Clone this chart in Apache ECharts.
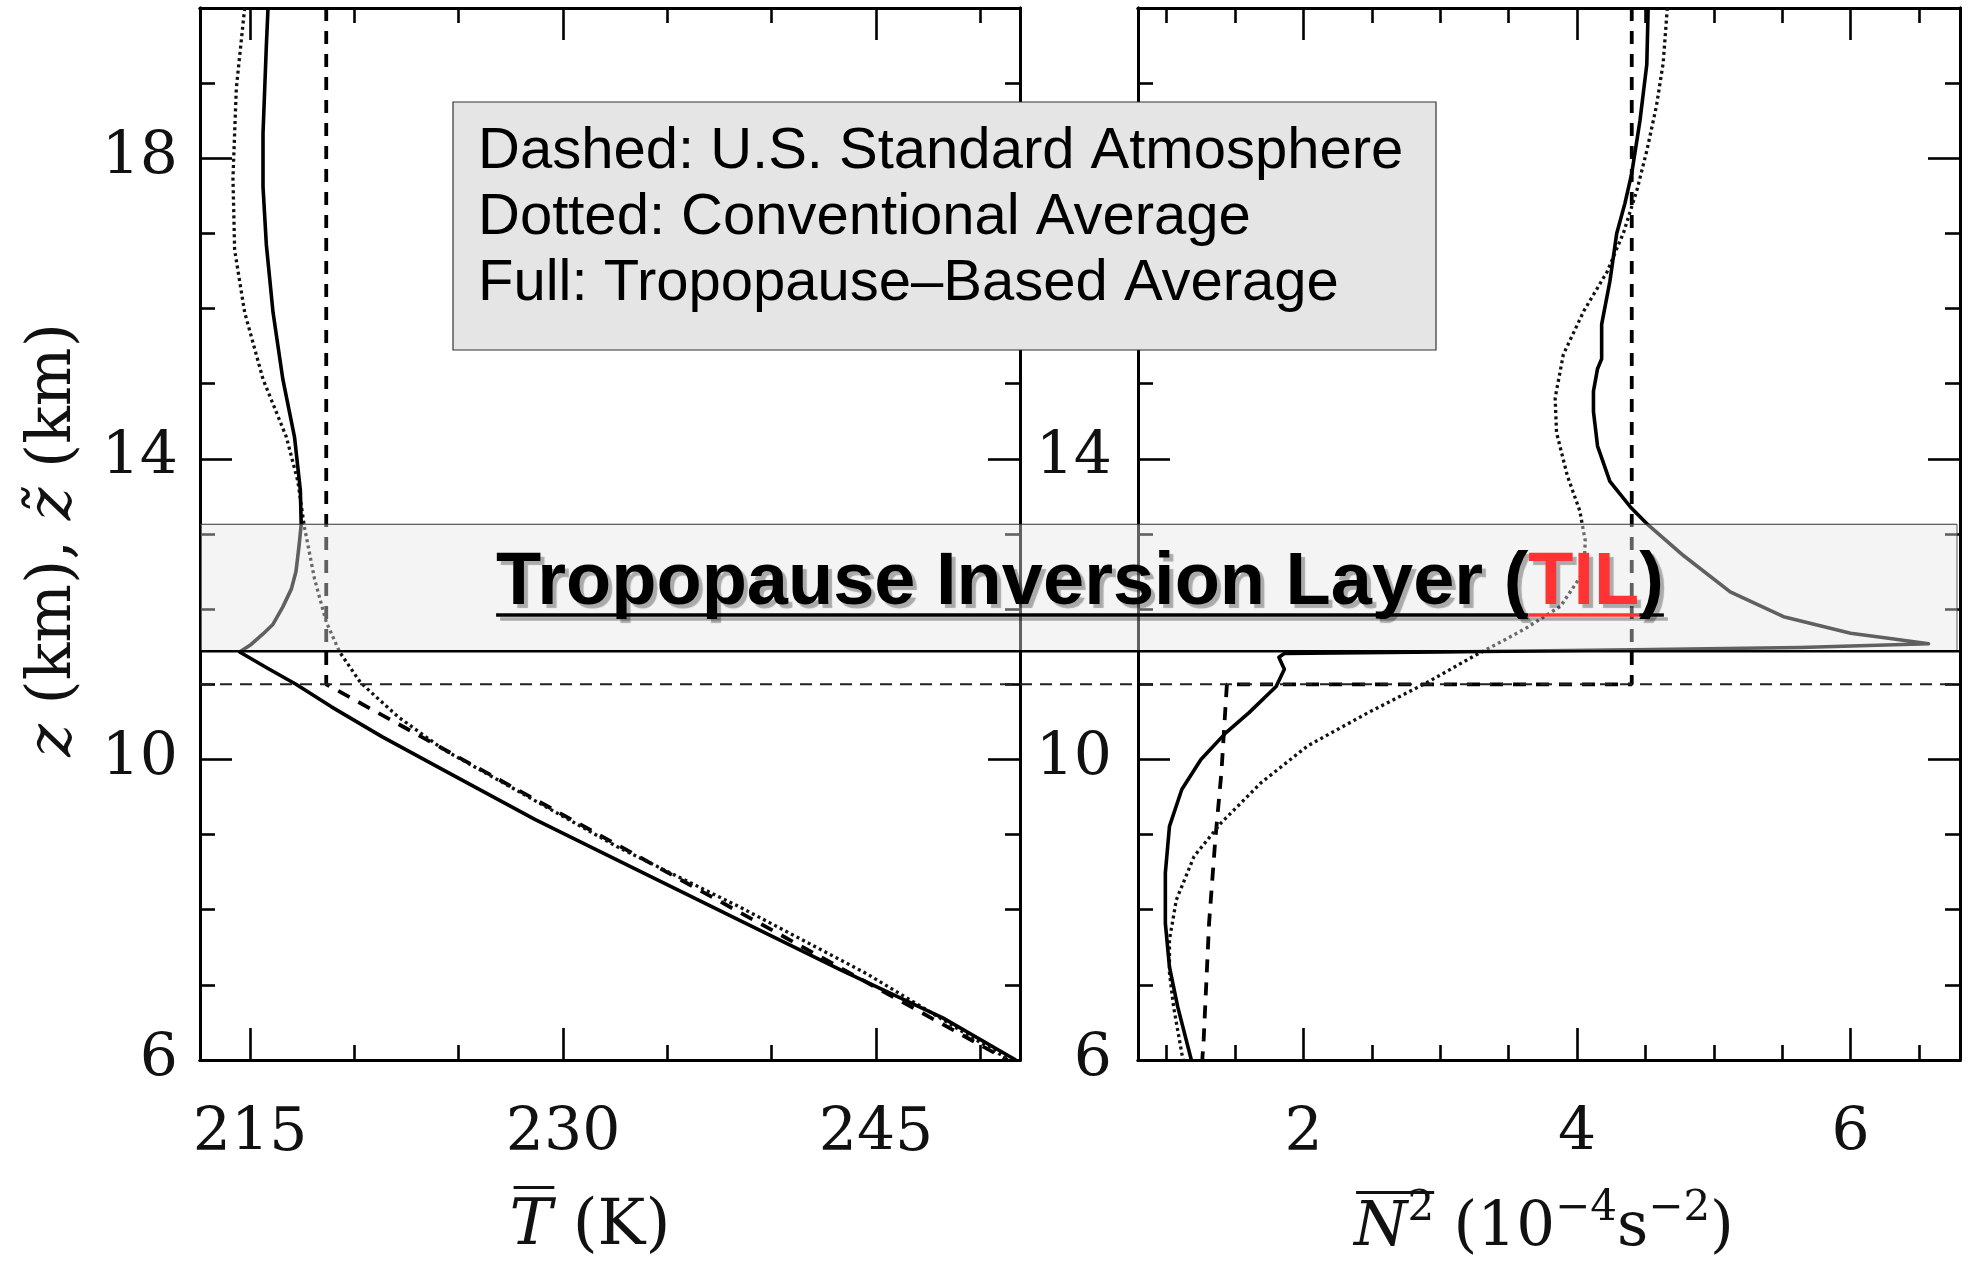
<!DOCTYPE html>
<html>
<head>
<meta charset="utf-8">
<script src="https://cdn.jsdelivr.net/npm/echarts@6/dist/echarts.min.js"></script>
<style>
  html, body { margin: 0; padding: 0; background: #fff; }
  #chart { width: 1971px; height: 1264px; }
</style>
</head>
<body>
<div id="chart"></div>
<script>
// Axis extents and tick positions
const tempRange = [212.6, 251.9];
const n2Range = [0.79, 6.8];
const zRange = [6, 20];
const tempMajorTicks = [215, 230, 245];
const tempMinorTicks = [220, 225, 235, 240, 250];
const n2MajorTicks = [2, 4, 6];
const n2MinorTicks = [1, 1.5, 2.5, 3, 3.5, 4.5, 5, 5.5, 6.5];
const zMajorTicks = [6, 10, 14, 18];
const zMinorTicks = [7, 8, 9, 11, 12, 13, 15, 16, 17, 19];

// Reference heights (km): tropopause and inversion layer bounds
const tropopauseZ = 11;
const tilLayer = [11.44, 13.13];

// Temperature profiles [T (K), z (km)]
const tempStandard = [[218.65, 20], [218.65, 11], [251.3, 6]];
const tempConventional = [
  [214.74, 20.0], [214.34, 18.93], [214.18, 17.74], [214.26, 16.78], [214.74, 15.95],
  [215.62, 15.06], [216.74, 14.29], [217.29, 13.7], [217.6, 13.1], [218.09, 12.4],
  [218.65, 11.83], [219.29, 11.43], [220.3, 11.02], [222.08, 10.57], [224.28, 10.13],
  [227.7, 9.6], [232.58, 8.84], [238.44, 8.04], [244.54, 7.15], [251.4, 6.0]
];
const tempTropopauseBased = [
  [215.86, 20.0], [215.78, 19.5], [215.62, 18.33], [215.62, 17.62], [215.78, 16.85],
  [216.1, 15.95], [216.57, 15.06], [217.13, 14.29], [217.41, 13.58], [217.45, 13.13],
  [217.35, 12.85], [217.2, 12.5], [216.98, 12.27], [216.57, 12.03], [216.1, 11.8],
  [215.62, 11.67], [215.05, 11.53], [214.5, 11.43], [215.86, 11.21], [217.2, 11.0],
  [218.9, 10.7], [221.34, 10.3], [224.52, 9.82], [228.67, 9.2], [233.55, 8.53],
  [238.44, 7.86], [243.3, 7.2], [248.2, 6.56], [251.7, 6.0]
];

// Buoyancy frequency squared profiles [N^2 (1e-4 s^-2), z (km)]
const n2Standard = [[4.40, 20], [4.40, 11.0], [1.44, 11.0], [1.40, 9.83], [1.355, 8.93], [1.31, 7.83], [1.27, 6.27], [1.26, 6.0]];
const n2Conventional = [
  [4.66, 20.0], [4.63, 19.27], [4.58, 18.69], [4.51, 18.1], [4.44, 17.59], [4.34, 17.01],
  [4.22, 16.49], [4.05, 15.97], [3.90, 15.39], [3.84, 14.81], [3.85, 14.35], [3.93, 13.77],
  [4.02, 13.31], [4.06, 12.91], [4.05, 12.5], [3.88, 12.04], [3.63, 11.75], [3.48, 11.6],
  [3.25, 11.38], [2.90, 11.02], [2.47, 10.62], [2.03, 10.18], [1.69, 9.69], [1.40, 9.16],
  [1.20, 8.71], [1.07, 8.13], [1.02, 7.6], [1.02, 7.16], [1.05, 6.71], [1.11, 6.09], [1.12, 6.0]
];
const n2TropopauseBased = [
  [4.52, 20.0], [4.51, 19.25], [4.46, 18.5], [4.40, 17.8], [4.35, 17.4], [4.29, 17.0],
  [4.24, 16.36], [4.18, 15.79], [4.18, 15.33], [4.15, 15.2], [4.12, 14.9], [4.12, 14.63],
  [4.15, 14.17], [4.24, 13.7], [4.39, 13.36], [4.52, 13.12], [4.78, 12.71], [5.12, 12.23],
  [5.51, 11.9], [6.0, 11.68], [6.29, 11.61], [6.57, 11.54], [5.63, 11.49], [4.41, 11.46],
  [3.0, 11.43], [1.86, 11.41], [1.82, 11.36], [1.86, 11.2], [1.80, 10.97], [1.60, 10.62],
  [1.43, 10.35], [1.25, 10.0], [1.11, 9.6], [1.02, 9.11], [0.99, 8.49], [0.99, 7.82],
  [1.02, 7.24], [1.08, 6.71], [1.18, 6.0]
];

// Text content
const legendLines = [
  'Dashed: U.S. Standard Atmosphere',
  'Dotted: Conventional Average',
  'Full: Tropopause\u2013Based Average'
];
const tilTitleParts = [['Tropopause Inversion Layer (', '#000'], ['TIL', '#ff3333'], [')', '#000']];

const SERIF = '"DejaVu Serif", "Liberation Serif", serif';
const SANS = '"Liberation Sans", Arial, sans-serif';

const chart = echarts.init(document.getElementById('chart'), null, { renderer: 'canvas' });

function valueAxis(grid, range, ticks, len, position, labels, labelMargin) {
  return {
    type: 'value', gridIndex: grid, position: position,
    min: range[0], max: range[1], silent: true, z: 0,
    axisLine: { show: true, onZero: false, lineStyle: { color: '#000', width: 3 } },
    axisTick: { show: true, inside: true, length: len, customValues: ticks,
                lineStyle: { color: '#000', width: 2.6 } },
    axisLabel: labels ? {
      show: true, customValues: labels, margin: labelMargin,
      fontFamily: SERIF, fontSize: 60, color: '#111',
      formatter: function (v) { return String(v); }
    } : { show: false },
    splitLine: { show: false },
    axisPointer: { show: false }
  };
}

function profile(name, data, grid, style) {
  return {
    type: 'line', name: name, data: data,
    xAxisIndex: grid * 4, yAxisIndex: grid * 4,
    symbol: 'none', silent: true, z: 2, animation: false,
    lineStyle: style
  };
}

const solidStyle = { color: '#000', width: 3.6, type: 'solid', join: 'round' };
const dashedStyle = { color: '#000', width: 3.8, type: [13, 10] };
const dottedStyle = { color: '#111', width: 3.3, type: [3, 3.3] };

chart.setOption({
  animation: false,
  backgroundColor: '#fff',
  grid: [
    { left: 200, top: 8, width: 820, height: 1052, outerBoundsMode: 'none', containLabel: false },
    { left: 1138, top: 8, width: 822, height: 1052, outerBoundsMode: 'none', containLabel: false }
  ],
  xAxis: [
    valueAxis(0, tempRange, tempMajorTicks, 32, 'bottom', tempMajorTicks, 44),
    valueAxis(0, tempRange, tempMinorTicks, 15, 'bottom'),
    valueAxis(0, tempRange, tempMajorTicks, 32, 'top'),
    valueAxis(0, tempRange, tempMinorTicks, 15, 'top'),
    valueAxis(1, n2Range, n2MajorTicks, 32, 'bottom', n2MajorTicks, 44),
    valueAxis(1, n2Range, n2MinorTicks, 15, 'bottom'),
    valueAxis(1, n2Range, n2MajorTicks, 32, 'top'),
    valueAxis(1, n2Range, n2MinorTicks, 15, 'top')
  ],
  yAxis: [
    valueAxis(0, zRange, zMajorTicks, 32, 'left', zMajorTicks, 22),
    valueAxis(0, zRange, zMinorTicks, 15, 'left'),
    valueAxis(0, zRange, zMajorTicks, 32, 'right'),
    valueAxis(0, zRange, zMinorTicks, 15, 'right'),
    valueAxis(1, zRange, zMajorTicks, 32, 'left', zMajorTicks, 26),
    valueAxis(1, zRange, zMinorTicks, 15, 'left'),
    valueAxis(1, zRange, zMajorTicks, 32, 'right'),
    valueAxis(1, zRange, zMinorTicks, 15, 'right')
  ],
  series: [
    profile('T standard', tempStandard, 0, dashedStyle),
    profile('T conventional', tempConventional, 0, dottedStyle),
    profile('T tropopause-based', tempTropopauseBased, 0, solidStyle),
    profile('N2 standard', n2Standard, 1, dashedStyle),
    profile('N2 conventional', n2Conventional, 1, dottedStyle),
    profile('N2 tropopause-based', n2TropopauseBased, 1, solidStyle)
  ]
});

// ---- overlay annotations ----
const measureCtx = document.createElement('canvas').getContext('2d');
function textWidth(font, s) { measureCtx.font = font; return measureCtx.measureText(s).width; }
const MID = 0.346; // canvas "middle" to alphabetic baseline, in em

function textEl(text, x, yMid, font, fill, extra) {
  const style = Object.assign({
    text: text, x: x, y: yMid, font: font, fill: fill,
    textAlign: 'left', textVerticalAlign: 'middle', align: 'left', verticalAlign: 'middle'
  }, extra || {});
  return { type: 'text', z: 30, silent: true, style: style };
}

// Horizontal run of text pieces sharing one baseline, centred on cx
function textRun(items, cx, baseline) {
  const fonts = items.map(function (it) {
    return (it.italic ? 'italic ' : '') + it.size + 'px ' + SERIF;
  });
  const widths = items.map(function (it, i) { return textWidth(fonts[i], it.t); });
  const total = widths.reduce(function (a, b) { return a + b; }, 0);
  let x = cx - total / 2;
  const els = [], spans = [];
  items.forEach(function (it, i) {
    const b = baseline - (it.rise || 0);
    els.push(textEl(it.t, x, b - MID * it.size, fonts[i], '#111'));
    spans.push([x, widths[i]]);
    x += widths[i];
  });
  return { els: els, spans: spans };
}

function buildOverlay() {
  const pTop = chart.convertToPixel({ seriesIndex: 0 }, [tempRange[0], tilLayer[1]]);
  const pBot = chart.convertToPixel({ seriesIndex: 0 }, [tempRange[0], tilLayer[0]]);
  const pTrop = chart.convertToPixel({ seriesIndex: 0 }, [tempRange[0], tropopauseZ]);
  const pRight = chart.convertToPixel({ seriesIndex: 3 }, [n2Range[1], tilLayer[0]]);
  const xL = pTop[0], xR = pRight[0];
  const yTop = pTop[1], yBot = pBot[1], yTrop = pTrop[1];

  const els = [];
  // inversion-layer band, translucent so profiles beneath read grey
  els.push({ type: 'rect', z: 5, silent: true,
    shape: { x: xL + 1, y: yTop, width: xR - xL - 4, height: yBot - yTop },
    style: { fill: 'rgba(228,228,228,0.42)' } });
  els.push({ type: 'line', z: 6, silent: true,
    shape: { x1: xL, y1: yTop, x2: xR - 3, y2: yTop },
    style: { stroke: '#333', lineWidth: 1.2 } });
  els.push({ type: 'line', z: 6, silent: true,
    shape: { x1: xR - 3, y1: yTop, x2: xR - 3, y2: yBot },
    style: { stroke: '#555', lineWidth: 1 } });
  els.push({ type: 'line', z: 6, silent: true,
    shape: { x1: xL, y1: yBot, x2: xR, y2: yBot },
    style: { stroke: '#000', lineWidth: 2.4 } });
  // tropopause reference line
  els.push({ type: 'line', z: 6, silent: true,
    shape: { x1: xL, y1: yTrop, x2: xR, y2: yTrop },
    style: { stroke: '#222', lineWidth: 2, lineDash: [12, 8] } });

  // band title with shadow and underline
  const tilFont = 'bold 74px ' + SANS;
  const tilW = tilTitleParts.map(function (p) { return textWidth(tilFont, p[0]); });
  const tilTotal = tilW.reduce(function (a, b) { return a + b; }, 0);
  const cx = (xL + xR) / 2;
  const yMid = (yTop + yBot) / 2 - 4;
  const baseline = yMid + MID * 74;
  let tx = cx - tilTotal / 2;
  tilTitleParts.forEach(function (p, i) {
    els.push({ type: 'rect', z: 29, silent: true,
      shape: { x: tx, y: baseline + 4, width: tilW[i], height: 3.4 },
      style: { fill: p[1], shadowColor: 'rgba(0,0,0,0.3)', shadowOffsetX: 4, shadowOffsetY: 4 } });
    els.push(textEl(p[0], tx, yMid, tilFont, p[1], {
      textShadowColor: 'rgba(0,0,0,0.3)', textShadowOffsetX: 4, textShadowOffsetY: 4, textShadowBlur: 1
    }));
    tx += tilW[i];
  });

  // line-style key box
  els.push({ type: 'rect', z: 25, silent: true,
    shape: { x: 453, y: 102, width: 983, height: 248 },
    style: { fill: '#e5e5e5', stroke: '#333', lineWidth: 1.2 } });
  legendLines.forEach(function (s, i) {
    els.push(textEl(s, 478, 152 + i * 66, '58px ' + SANS, '#000'));
  });

  // axis titles
  const tTitle = textRun([
    { t: 'T', size: 64, italic: true },
    { t: ' (K)', size: 64 }
  ], 590, 1250);
  tTitle.els.forEach(function (e) { els.push(e); });
  els.push({ type: 'rect', z: 30, silent: true,
    shape: { x: tTitle.spans[0][0] + 4, y: 1186, width: tTitle.spans[0][1] - 2, height: 3 },
    style: { fill: '#111' } });

  const nTitle = textRun([
    { t: 'N', size: 61, italic: true },
    { t: '2', size: 42, rise: 26 },
    { t: ' (10', size: 61 },
    { t: '\u22124', size: 42, rise: 26 },
    { t: 's', size: 61 },
    { t: '\u22122', size: 42, rise: 26 },
    { t: ')', size: 61 }
  ], 1544, 1250);
  nTitle.els.forEach(function (e) { els.push(e); });
  els.push({ type: 'rect', z: 30, silent: true,
    shape: { x: nTitle.spans[0][0] + 2, y: 1191,
             width: nTitle.spans[1][0] + nTitle.spans[1][1] - nTitle.spans[0][0] - 2, height: 3 },
    style: { fill: '#111' } });

  const zTitle = textRun([
    { t: 'z', size: 62, italic: true },
    { t: ' (km), ', size: 62 },
    { t: 'z\u0303', size: 62, italic: true },
    { t: ' (km)', size: 62 }
  ], 0, 0.3 * 62);
  els.push({ type: 'group', x: 57, y: 540, rotation: Math.PI / 2, children: zTitle.els });

  chart.setOption({ graphic: { elements: els } });
}

buildOverlay();
</script>
</body>
</html>
